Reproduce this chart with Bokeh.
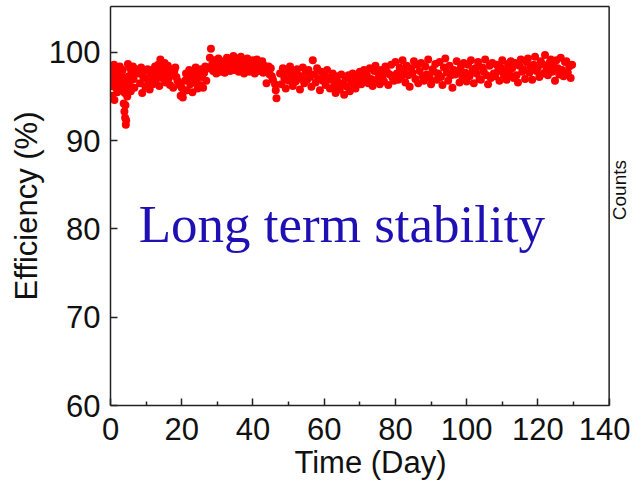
import math
from bokeh.plotting import figure
from bokeh.models import Label, FixedTicker, Range1d, LinearAxis, Span
from bokeh.embed import file_html
from bokeh.resources import INLINE

# ---- data (day, efficiency %) ----
day_a = [0.1, 0.2, 0.3, 0.5, 0.6, 0.8, 1.0, 1.1, 1.3, 1.5, 1.7, 1.9, 2.1, 2.3, 2.6, 2.8, 3.0, 3.2, 3.4]
eff_a = [97.8, 96.2, 98.3, 95.1, 97.0, 96.5, 98.6, 94.6, 97.4, 96.0, 98.1, 95.5, 97.6, 96.8, 98.4, 95.8, 97.1, 96.3, 98.0]

day_b = [3.6, 3.7, 3.8, 3.9, 4.0, 4.1, 4.2, 4.3, 4.4, 4.5, 4.7, 4.9, 5.1, 5.3, 5.5, 5.7, 5.9, 6.1, 6.3, 6.5, 6.7, 6.9, 7.1]
eff_b = [97.2, 94.2, 96.1, 93.3, 95.4, 92.6, 94.0, 91.8, 92.3, 96.8, 95.0, 98.7, 97.3, 96.2, 98.2, 95.6, 97.8, 96.9, 98.4, 97.0, 96.0, 97.7, 98.1]

day_c = [8.0, 8.3, 8.6, 8.9, 9.2, 9.5, 9.8, 10.1, 10.4, 10.7, 11.0, 11.3, 11.6, 11.9, 12.2, 12.5, 12.8, 13.1, 13.4,
         13.7, 14.0, 14.3, 14.6, 14.9, 15.2, 15.5, 15.8, 16.1, 16.4, 16.7, 17.0, 17.3, 17.6, 17.9, 18.2, 18.5, 18.8]
eff_c = [97.6, 96.5, 98.3, 95.4, 97.2, 97.9, 96.1, 97.0, 98.1, 96.7, 95.8, 97.5, 98.0, 96.4, 97.3, 98.4, 96.9, 97.7, 98.6,
         96.2, 99.2, 97.4, 98.2, 97.0, 98.8, 96.6, 97.8, 98.5, 97.1, 96.3, 98.0, 97.5, 96.0, 97.9, 98.3, 97.2, 96.8]

day_d = [19.4, 19.7, 20.0, 20.3, 20.6, 20.9, 21.2, 21.5, 21.8, 22.1, 22.4, 22.7, 23.0, 23.3, 23.6, 23.9, 24.2, 24.5,
         24.8, 25.1, 25.4, 25.7, 26.0, 26.3, 26.6, 26.9]
eff_d = [96.3, 95.1, 96.0, 94.9, 95.6, 96.8, 97.6, 95.7, 96.9, 98.0, 96.4, 97.3, 95.5, 97.8, 96.6, 98.3, 97.0, 95.9,
         97.5, 96.3, 98.1, 97.2, 96.0, 97.7, 98.4, 96.8]

day_e = [27.6, 27.9, 28.2, 28.5, 28.8, 29.1, 29.4, 29.7, 30.0, 30.3, 30.6, 30.9, 31.2, 31.5, 31.8, 32.1, 32.4, 32.7,
         33.0, 33.3, 33.6, 33.9, 34.2, 34.5, 34.8, 35.1, 35.4, 35.7, 36.0, 36.3, 36.6, 36.9, 37.2, 37.5, 37.8, 38.1,
         38.4, 38.7, 39.0, 39.3, 39.6, 39.9, 40.2, 40.5, 40.8, 41.1, 41.4, 41.7, 42.0, 42.3, 42.6, 42.9, 43.2, 43.5,
         43.8, 44.1, 44.4, 44.7, 45.0, 45.3, 45.6, 46.2, 46.4, 46.6]
eff_e = [98.2, 99.4, 100.4, 98.6, 97.9, 99.1, 98.4, 97.6, 98.9, 99.3, 98.1, 97.8, 98.7, 99.0, 98.3, 97.7, 98.8, 99.4,
         98.2, 98.6, 97.9, 99.2, 98.5, 99.6, 98.0, 98.8, 99.3, 98.4, 97.8, 98.9, 99.5, 98.2, 98.7, 97.6, 99.0, 98.4,
         99.3, 98.1, 97.8, 98.9, 98.5, 99.1, 98.0, 97.6, 98.6, 99.2, 98.3, 97.9, 98.7, 98.2, 99.0, 97.7, 98.5, 98.1,
         96.5, 97.9, 98.4, 97.5, 98.2, 97.3, 96.9, 96.4, 95.7, 94.8]

day_f = [47.6, 48.0, 48.4, 48.8, 49.2, 49.6, 50.0, 50.4, 50.8, 51.2, 51.6, 52.0, 52.4, 52.8, 53.2, 53.6, 54.0, 54.4,
         54.8, 55.2, 55.6, 56.0, 56.4, 56.8, 57.2, 57.6, 58.0, 58.4, 58.8, 59.2, 59.6, 60.0, 60.4, 60.8, 61.2, 61.6,
         62.0, 62.4, 62.8, 63.2, 63.6, 64.0, 64.4, 64.8, 65.2, 65.6, 66.0, 66.4, 66.8, 67.2, 67.6, 68.0, 68.4, 68.8,
         69.2, 69.6, 70.0, 70.4, 70.8, 71.2, 71.6]
eff_f = [97.6, 96.4, 98.2, 97.1, 95.9, 97.8, 96.8, 98.4, 97.3, 96.2, 97.9, 96.7, 98.1, 97.4, 95.8, 97.0, 98.3, 96.5,
         97.7, 96.9, 98.0, 97.2, 96.1, 99.1, 97.5, 96.6, 98.2, 97.0, 95.7, 97.8, 96.8, 97.5, 96.3, 98.0, 97.1, 95.9,
         96.9, 97.6, 96.2, 95.4, 97.3, 96.6, 95.8, 97.5, 96.4, 95.2, 97.0, 96.1, 97.4, 95.6, 96.8, 97.6, 96.3, 95.9,
         97.2, 96.7, 97.8, 96.4, 97.3, 98.0, 96.8]

day_g = [72.0, 72.4, 72.8, 73.2, 73.6, 74.0, 74.4, 74.8, 75.2, 75.6, 76.0, 76.4, 76.8, 77.2, 77.6, 78.0, 78.4, 78.8,
         79.2, 79.6, 80.0, 80.4, 80.8, 81.2, 81.6, 82.0, 82.4, 82.8, 83.2, 83.6, 84.0, 84.4, 84.8, 85.2, 85.6, 86.0,
         86.4, 86.8, 87.2, 87.6, 88.0, 88.4, 88.8, 89.2, 89.6, 90.0, 90.4, 90.8, 91.2, 91.6, 92.0, 92.4, 92.8, 93.2,
         93.6, 94.0, 94.4, 94.8, 95.2, 95.6, 96.0, 96.4, 96.8, 97.2, 97.6, 98.0, 98.4, 98.8, 99.2, 99.6, 100.0,
         100.4, 100.8, 101.2, 101.6, 102.0, 102.4, 102.8, 103.2, 103.6, 104.0, 104.4, 104.8, 105.2, 105.6, 106.0,
         106.4, 106.8, 107.2, 107.6]
eff_g = [97.4, 96.5, 98.2, 97.0, 96.2, 97.9, 98.5, 96.9, 97.6, 96.4,
         98.0, 97.3, 96.7, 98.4, 97.8, 96.3, 97.5, 98.6, 97.1, 96.8,
         98.9, 97.6, 96.9, 98.3, 97.2, 99.1, 97.9, 96.6, 98.5, 97.4,
         96.1, 98.2, 97.7, 99.0, 97.0, 98.6, 96.5, 97.9, 98.8, 97.3,
         96.8, 98.4, 97.5, 99.2, 97.1, 96.4, 98.1, 97.8, 98.7, 96.9,
         97.6, 98.9, 97.2, 96.3, 98.3, 99.3, 97.7, 96.8, 98.5, 97.4,
         96.0, 98.0, 97.5, 99.0, 97.9, 96.6, 98.4, 97.2, 98.8, 97.7,
         96.7, 98.6, 97.3, 99.1, 97.9, 96.5, 98.2, 97.6, 98.9, 97.0,
         96.9, 98.3, 97.8, 99.2, 97.4, 96.4, 98.5, 97.1, 98.8, 97.6]

day_h = [108.0, 108.4, 108.8, 109.2, 109.6, 110.0, 110.4, 110.8, 111.2, 111.6, 112.0, 112.4, 112.8, 113.2, 113.6,
         114.0, 114.4, 114.8, 115.2, 115.6, 116.0, 116.4, 116.8, 117.2, 117.6, 118.0, 118.4, 118.8, 119.2, 119.6,
         120.0, 120.4, 120.8, 121.2, 121.6, 122.0, 122.4, 122.8, 123.2, 123.6, 124.0, 124.4, 124.8, 125.2, 125.6,
         126.0, 126.4, 126.8, 127.2, 127.6, 128.0, 128.4, 128.8, 129.2, 129.6]
eff_h = [97.3, 98.6, 97.9, 96.8, 98.3, 99.1, 97.5, 98.0, 96.9, 98.7,
         97.6, 99.0, 98.2, 97.1, 98.8, 97.4, 96.6, 98.5, 99.2, 97.8,
         98.1, 97.0, 98.9, 99.3, 97.7, 98.4, 96.9, 98.6, 99.5, 97.9,
         98.3, 97.2, 99.0, 98.7, 97.6, 99.7, 98.1, 97.4, 98.8, 99.2,
         97.8, 98.5, 96.8, 99.1, 98.2, 97.5, 99.4, 98.0, 97.3, 98.9,
         99.0, 97.7, 98.4, 97.1, 98.6]

x_ticks = [0, 20, 40, 60, 80, 100, 120, 140]
x_minor = [10, 30, 50, 70, 90, 110, 130]
y_ticks = [60, 70, 80, 90, 100]
X_MIN, X_MAX = 0, 140

days = day_a + day_b + day_c + day_d + day_e + day_f + day_g + day_h
effs = eff_a + eff_b + eff_c + eff_d + eff_e + eff_f + eff_g + eff_h

FONT = "Liberation Sans"
SPINE = "#222222"

# the frame runs a little past 140 so the "Counts" label can sit right of the box
p = figure(width=630, height=482, output_backend="svg", toolbar_location=None,
           x_range=Range1d(0, 146), y_range=Range1d(60, 105.2),
           min_border_left=110, min_border_right=0, min_border_top=6, min_border_bottom=77)
p.grid.visible = False
p.outline_line_color = None

p.scatter(days, effs, size=8, color="#ff0000", line_color=None)

for ax in (p.xaxis[0], p.yaxis[0]):
    ax.axis_line_color = SPINE
    ax.axis_line_width = 1.5
    ax.major_tick_line_color = SPINE
    ax.major_tick_line_width = 1.5
    ax.minor_tick_line_color = SPINE
    ax.minor_tick_line_width = 1.5
    ax.major_tick_in = 7
    ax.major_tick_out = 0
    ax.minor_tick_in = 4
    ax.minor_tick_out = 0
    ax.major_label_text_font = FONT
    ax.major_label_text_font_size = "31px"
    ax.major_label_text_color = "#111111"
    ax.axis_label_text_font = FONT
    ax.axis_label_text_font_size = "31px"
    ax.axis_label_text_font_style = "normal"
    ax.axis_label_text_color = "#111111"

p.xaxis.bounds = (X_MIN, X_MAX)
p.xaxis.ticker = FixedTicker(ticks=x_ticks, minor_ticks=x_minor)
p.yaxis.ticker = FixedTicker(ticks=y_ticks, minor_ticks=[])
p.xaxis.axis_label = "Time (Day)"
p.yaxis.axis_label = "Efficiency (%)"
p.xaxis.major_label_standoff = 12
p.yaxis.major_label_standoff = 10
p.xaxis.axis_label_standoff = 2
p.yaxis.axis_label_standoff = 2

# top spine
top_axis = LinearAxis(bounds=(X_MIN, X_MAX), ticker=FixedTicker(ticks=[]),
                      axis_line_color=SPINE, axis_line_width=1.5,
                      major_tick_line_color=None, minor_tick_line_color=None,
                      major_label_text_font_size="0px", major_label_standoff=0,
                      major_tick_in=0, major_tick_out=0, minor_tick_in=0, minor_tick_out=0)
p.add_layout(top_axis, "above")

# right spine at x = 140
p.add_layout(Span(location=X_MAX, dimension="height", line_color=SPINE, line_width=1.5))

p.add_layout(Label(x=7.9, y=80.6, text="Long term stability", text_font="Liberation Serif",
                   text_font_size="53px", text_color="#1f10b4", text_baseline="alphabetic",
                   text_align="left"))
p.add_layout(Label(x=143.0, y=84.4, text="Counts", text_font=FONT, text_font_size="19px",
                   text_color="#111111", angle=math.pi / 2, text_align="center",
                   text_baseline="middle"))

open("out.html", "w").write(file_html(p, INLINE))
